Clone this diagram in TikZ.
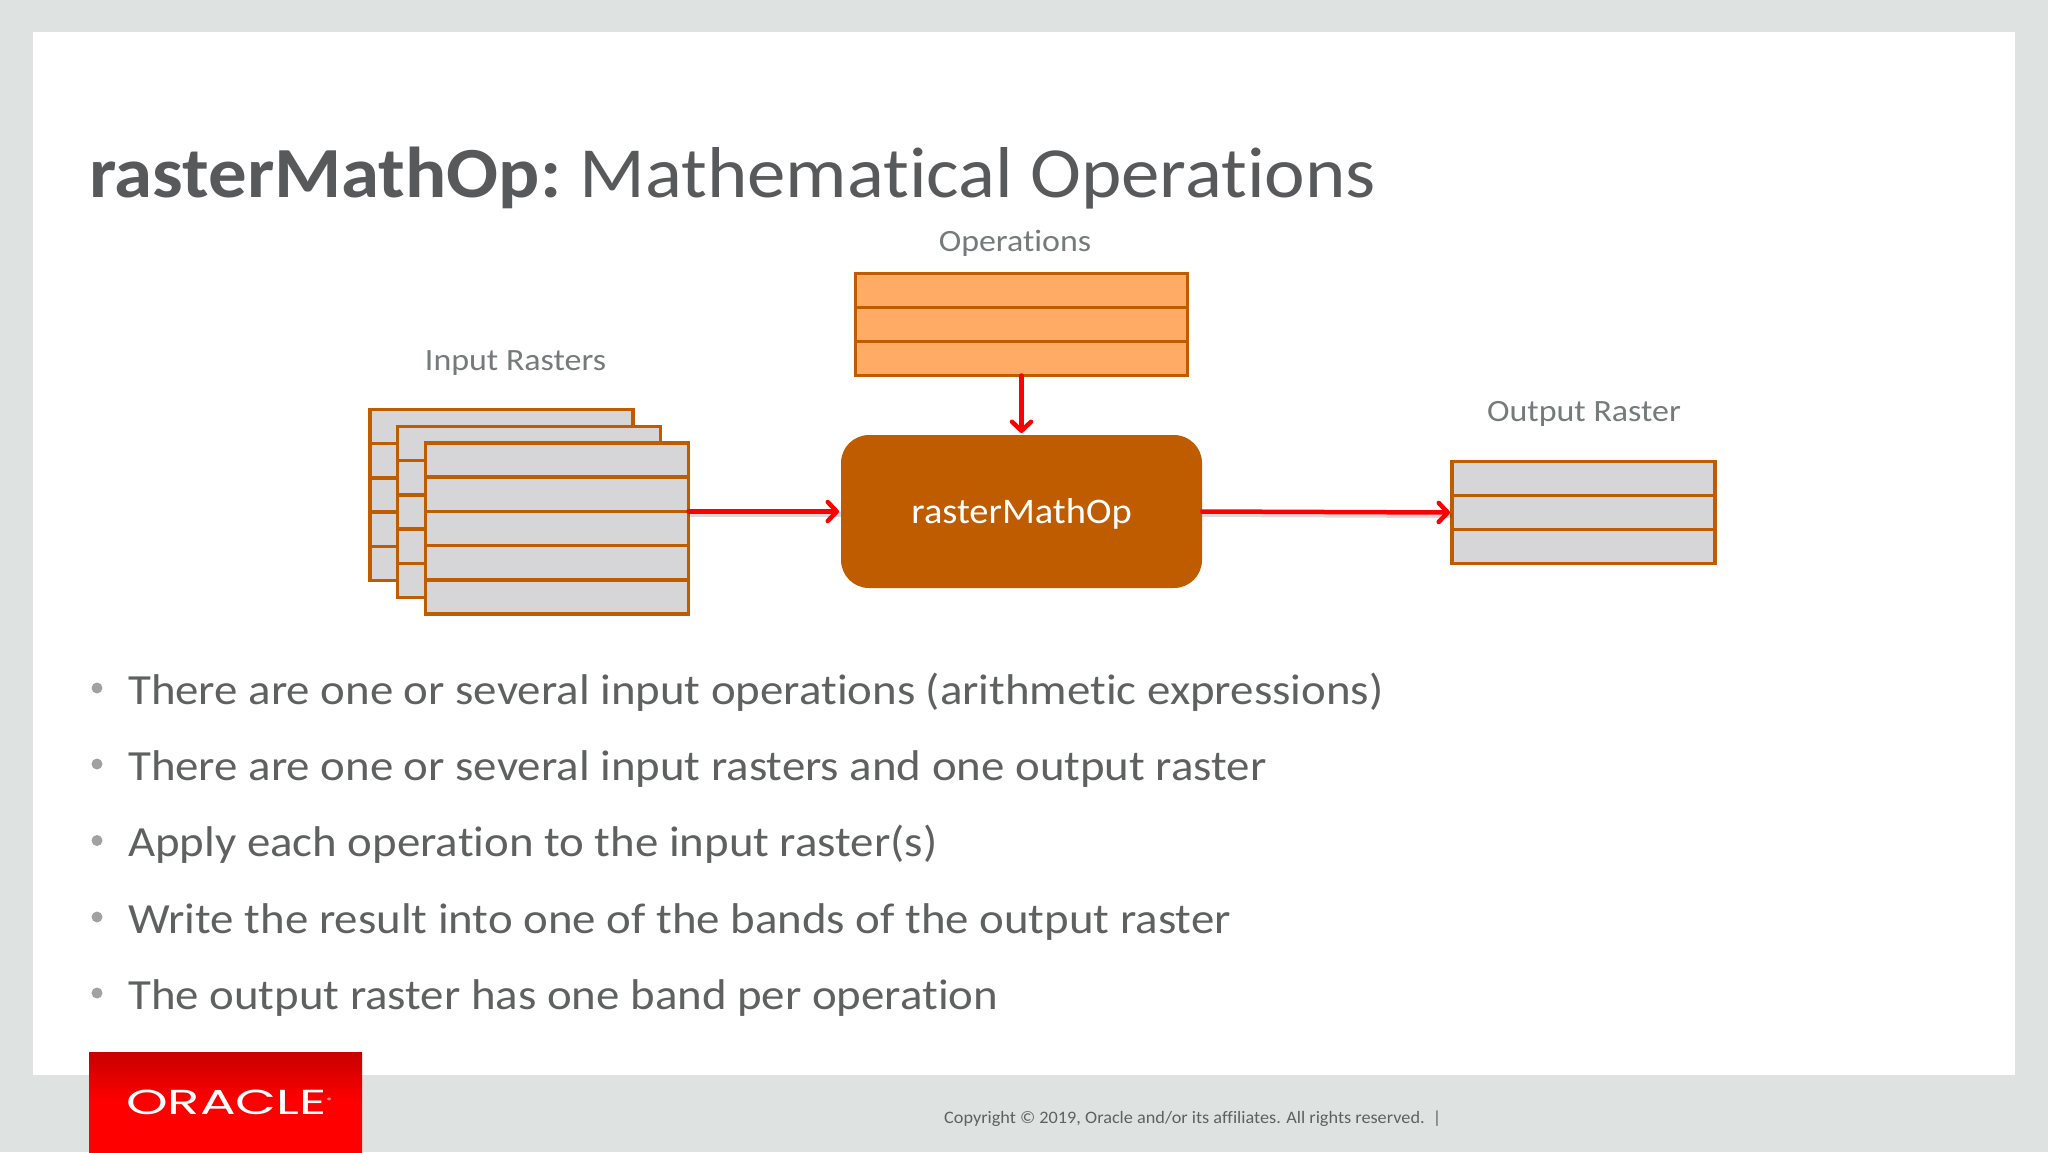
\documentclass[tikz,border=0pt]{standalone}
\usepackage{fontspec}
\setmainfont[Ligatures=NoCommon,FakeStretch=1.068]{Carlito}
\newfontfamily\bulletfont[Ligatures=NoCommon,FakeStretch=1.09]{Carlito}
\newfontfamily\capfont[Ligatures=NoCommon,FakeStretch=1.095]{Carlito}
\newfontfamily\copyfont[Ligatures=NoCommon,FakeStretch=1.043]{Carlito}
\newfontfamily\logofont{Poppins}
\usetikzlibrary{arrows.meta,calc}
\definecolor{slidebg}{HTML}{DEE3E1}
\definecolor{titlegray}{HTML}{58595B}
\definecolor{bodygray}{HTML}{5F6161}
\definecolor{labelgray}{HTML}{757A7A}
\definecolor{edgeorange}{HTML}{C05C00}
\definecolor{opfill}{HTML}{FFAB66}
\definecolor{rastfill}{HTML}{D6D6D8}
\definecolor{bulletgray}{HTML}{A0A2A2}
\definecolor{logotop}{HTML}{C80000}
\definecolor{logobottom}{HTML}{FF0000}
\tikzset{
  band/.style={draw=edgeorange,line width=3.5pt,rectangle,inner sep=0pt,outer sep=0pt},
  bandline/.style={draw=edgeorange,line width=3.5pt},
  link/.style={draw=red,line width=4.5pt,line cap=round,-{Straight Barb[round,length=9pt,width=19pt,line width=4.5pt]},shorten >=2pt},
  linkshade/.style={draw=black,opacity=.14,line width=5pt},
  bullettext/.style={anchor=base west,inner sep=0pt,text=bodygray,font=\bulletfont\fontsize{43}{50}\selectfont},
  bulletdot/.style={circle,fill=bulletgray,minimum size=11pt,inner sep=0pt},
  caption/.style={inner sep=0pt,text=labelgray,font=\capfont\fontsize{31}{36}\selectfont,anchor=base},
}
\newcommand{\rasterstack}[7]{% name, center x, top y, width, height, fill, inner lines
  \node[band,fill=#6,anchor=north,minimum width=#4pt,minimum height=#5pt] (#1) at (#2,#3) {};
  \foreach \k in {1,...,#7}{
    \draw[bandline] ($(#1.north west)!{\k/(#7+1)}!(#1.south west)$) -- ($(#1.north east)!{\k/(#7+1)}!(#1.south east)$);
  }
}
\begin{document}
\begin{tikzpicture}[x=1pt,y=-1pt]
\useasboundingbox (0,0) rectangle (2048,1152);
\fill[slidebg] (0,0) rectangle (2048,1152);
\fill[white] (33,32) rectangle (2015,1075);
\node[anchor=base west,inner sep=0pt,text=titlegray,font=\fontsize{72}{80}\selectfont] (title) at (89,197) {\textbf{rasterMathOp:} \hspace{-5pt}Mathematical Operations};

\node[caption] (capi) at (515.5,370) {Input Rasters};
\node[caption] (capo) at (1015,251) {Operations};
\node[caption] (capr) at (1584,421) {Output Raster};

\rasterstack{ra}{501.5}{409.5}{263}{171}{rastfill}{4}
\rasterstack{rb}{529}{426.5}{263}{171}{rastfill}{4}
\rasterstack{rc}{557}{443}{263}{171}{rastfill}{4}
\rasterstack{ops}{1021.5}{273.5}{332}{102}{opfill}{2}
\rasterstack{out}{1583.5}{461.5}{263}{102}{rastfill}{2}

\node[rectangle,rounded corners=28pt,fill=edgeorange,minimum width=361pt,minimum height=153pt,inner sep=0pt,outer sep=0pt,text=white,text height=23pt,text depth=0pt,font=\fontsize{36}{42}\selectfont] (op) at (1021.5,511.5) {rasterMathOp};

\begin{scope}[transform canvas={yshift=-3pt}]
\draw[linkshade] (rc.east |- op.west) -- (op.west);
\draw[linkshade] (op.east) -- (out.west);
\end{scope}
\draw[link] (rc.east |- op.west) -- (op.west);
\draw[link] (ops.south) -- (op.north);
\draw[link] (op.east) -- (out.west);

\foreach \yy/\tt [count=\n] in {704/There are one or several input operations (arithmetic expressions),
                     780/There are one or several input rasters and one output raster,
                     856.5/Apply each operation to the input raster(s),
                     933/Write the result into one of the bands of the output raster,
                     1009/The output raster has one band per operation}{
  \node[bulletdot] (dot\n) at (97,\yy-16) {};
  \node[bullettext] (item\n) at (128,\yy) {\tt};
}

\shade[top color=logotop,bottom color=logobottom,middle color=logobottom,shading angle=0] (89,1052) rectangle (362,1152);
\node[inner sep=0pt,text=white,anchor=center] (logo) at (229,1102.5) {\logofont\fontsize{34}{34}\selectfont\scalebox{1.56}[1.02]{ORACLE\raisebox{12pt}{\fontsize{6}{6}\selectfont ®}}};
\node[inner sep=0pt,anchor=base west,text=bodygray,font=\copyfont\fontsize{17.5}{20}\selectfont] (copy) at (944,1123) {Copyright © 2019, Oracle and/or its affiliates. All rights reserved.\ \ |};
\end{tikzpicture}
\end{document}
